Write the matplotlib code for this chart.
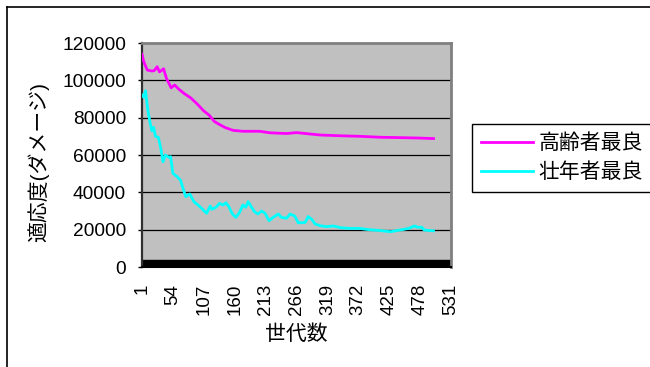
import matplotlib
matplotlib.use("Agg")
import matplotlib.pyplot as plt
from matplotlib.lines import Line2D

plt.rcParams['font.family'] = ['Liberation Sans', 'Noto Sans CJK JP']

# best fitness per generation (damage)
gen_old = [1, 4, 10, 18, 22, 27, 31, 38, 43, 51, 57, 64, 73, 85, 96, 107, 116, 125,
           134, 143, 157, 174, 203, 220, 249, 266, 307, 341, 376, 410, 445, 474, 501]
best_old = [114000, 110000, 105500, 105000, 105200, 107300, 104500, 106200, 101000,
            96000, 97500, 95300, 93000, 90500, 87200, 83600, 81400, 78000, 76300,
            74800, 73200, 72700, 72700, 71900, 71500, 72000, 70700, 70300, 70000,
            69500, 69300, 69100, 68800]

gen_young = [1, 4, 7, 11, 15, 18, 21, 24, 29, 33, 37, 41, 47, 50, 54, 61, 67, 70, 76,
             83, 90, 99, 105, 112, 118, 121, 128, 134, 140, 145, 150, 156, 162, 168,
             174, 179, 183, 189, 194, 200, 206, 212, 219, 226, 235, 240, 249, 255,
             263, 269, 275, 281, 286, 292, 298, 307, 318, 329, 341, 355, 373, 390,
             407, 427, 436, 447, 459, 468, 474, 481, 485, 499, 501]
best_young = [92100, 90900, 94400, 84100, 77000, 73000, 74800, 70000, 69500, 64000,
              56400, 60000, 58800, 59100, 50200, 48400, 46600, 43400, 37700, 39100,
              35000, 32700, 30900, 28800, 32700, 30900, 32000, 34100, 33200, 34400,
              32300, 28400, 26600, 29100, 33200, 32000, 35000, 32000, 29600, 28400,
              30000, 28800, 24800, 26600, 28400, 26600, 26100, 28400, 27300, 23700,
              23700, 23900, 27000, 25600, 23000, 22100, 21600, 22000, 21100, 20700,
              20700, 20000, 19600, 18900, 19400, 20000, 20700, 22000, 21300, 21300,
              19800, 19400, 19400]

xticks = list(range(1, 532, 53))
yticks = list(range(0, 120001, 20000))
labels = ['高齢者最良', '壮年者最良']

fig = plt.figure(figsize=(6.5, 3.67), dpi=100)
ax = fig.add_axes([142 / 650, 1 - 267 / 367, 309 / 650, 224 / 367])
ax.set_facecolor('#C0C0C0')

# outer chart border
fig.add_artist(Line2D([6.5 / 650, 1.0], [1 - 7 / 367] * 2, color='black', lw=1.2,
                      transform=fig.transFigure))
fig.add_artist(Line2D([6.5 / 650] * 2, [0, 1 - 7 / 367], color='black', lw=1.2,
                      transform=fig.transFigure))

for y in yticks[1:-1]:
    ax.axhline(y, color='black', lw=0.9, zorder=1)
ax.axhspan(0, 3500, color='black', zorder=1)

ax.plot(gen_old, best_old, color='#FF00FF', lw=2.0, label=labels[0], zorder=3)
ax.plot(gen_young, best_young, color='#00FFFF', lw=2.0, label=labels[1], zorder=3)

ax.set_xlim(1, 531)
ax.set_ylim(0, 120000)
ax.set_xticks(xticks)
ax.set_yticks(yticks)
ax.tick_params(axis='x', length=0, pad=12, labelsize=13.5, labelrotation=90)
ax.tick_params(axis='y', length=3, width=1, direction='out', pad=8.5, labelsize=13.8)

for side in ('top', 'right'):
    ax.spines[side].set_color('#808080')
    ax.spines[side].set_linewidth(2)
ax.spines['left'].set_color('#303030')
ax.spines['left'].set_linewidth(1.6)
ax.spines['bottom'].set_color('black')
ax.spines['bottom'].set_linewidth(1.5)

ax.set_xlabel('世代数', fontsize=15)
ax.xaxis.set_label_coords(0.5, -0.254)
ax.set_ylabel('適応度(ダメージ)', fontsize=15)
ax.yaxis.set_label_coords(-0.3, 0.47)

leg = ax.legend(loc='upper left', bbox_to_anchor=(471.7 / 650, 1 - 124.3 / 367),
                bbox_transform=fig.transFigure, borderaxespad=0, fontsize=15,
                frameon=True, fancybox=False, edgecolor='black', framealpha=1,
                handlelength=2.5, handletextpad=0.25, labelspacing=0.45, borderpad=0.45)
leg.get_frame().set_linewidth(1.0)

fig.savefig('out.png', dpi=100)
